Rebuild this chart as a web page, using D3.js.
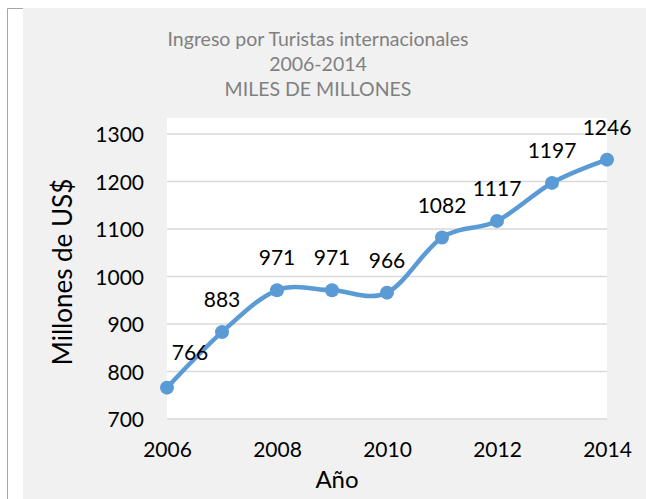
<!DOCTYPE html>
<html>
<head>
<meta charset="utf-8">
<script src="https://cdn.jsdelivr.net/npm/d3@7"></script>
<style>
  body { margin: 0; background: #fff; }
  text { font-family: Lato, "Open Sans", sans-serif; }
</style>
</head>
<body>
<svg id="chart" width="646" height="499"></svg>
<script>
// Values
var years = [2006, 2007, 2008, 2009, 2010, 2011, 2012, 2013, 2014];
var ingresos = [766, 883, 971, 971, 966, 1082, 1117, 1197, 1246];
var xTicks = [2006, 2008, 2010, 2012, 2014];
var yTicks = [700, 800, 900, 1000, 1100, 1200, 1300];
var titleLines = ["Ingreso por Turistas internacionales", "2006-2014", "MILES DE MILLONES"];

var svg = d3.select("#chart");

// outer frame - gray area with a thin border on left / top
svg.append("rect").attr("x", 23).attr("y", 8).attr("width", 623).attr("height", 491)
  .attr("fill", "#f1f1f1");
svg.append("path").attr("d", "M7.5,499 V8.5 H23")
  .attr("fill", "none").attr("stroke", "#a6a6a6").attr("stroke-width", 1);

var x = d3.scaleLinear().domain([2006, 2014]).range([167, 607]);
var y = d3.scaleLinear().domain([700, 1300]).range([419, 134]);

// plot area (white goes a little above the top gridline)
svg.append("rect")
  .attr("x", x(2006)).attr("y", y(1300) - 16)
  .attr("width", x(2014) - x(2006)).attr("height", y(700) - y(1300) + 16)
  .attr("fill", "#fff");

svg.append("g").selectAll("line").data(yTicks).join("line")
  .attr("x1", x(2006)).attr("x2", x(2014))
  .attr("y1", function(d) { return y(d); }).attr("y2", function(d) { return y(d); })
  .attr("stroke", "#d9d9d9").attr("stroke-width", 1.5);

// axis labels, no axis lines (excel style)
var yAxis = d3.axisLeft(y).tickValues(yTicks).tickFormat(d3.format("d")).tickSize(0).tickPadding(0);
var gy = svg.append("g").attr("transform", "translate(144,0)").call(yAxis);
gy.select(".domain").remove();
gy.selectAll("text").attr("font-size", 21).attr("fill", "#000")
  .attr("font-family", "Lato, sans-serif").attr("dy", "0.36em");

var xAxis = d3.axisBottom(x).tickValues(xTicks).tickFormat(d3.format("d")).tickSize(0).tickPadding(0);
var gx = svg.append("g").attr("transform", "translate(0,442)").call(xAxis);
gx.select(".domain").remove();
gx.selectAll("text").attr("font-size", 21).attr("fill", "#000")
  .attr("font-family", "Lato, sans-serif").attr("dy", "0.71em");

// the line
var line = d3.line()
  .x(function(d, i) { return x(years[i]); })
  .y(function(d) { return y(d); })
  .curve(d3.curveCardinal.tension(0));

svg.append("path").datum(ingresos)
  .attr("d", line)
  .attr("fill", "none").attr("stroke", "#5b9bd5").attr("stroke-width", 4.5)
  .attr("stroke-linecap", "round");

svg.append("g").selectAll("circle").data(ingresos).join("circle")
  .attr("cx", function(d, i) { return x(years[i]); })
  .attr("cy", function(d) { return y(d); })
  .attr("r", 7)
  .attr("fill", "#5b9bd5");

// data labels - first one was moved a bit to the right
svg.append("g").selectAll("text").data(ingresos).join("text")
  .attr("x", function(d, i) { return x(years[i]) + (i == 0 ? 23 : 0); })
  .attr("y", function(d, i) { return y(d) - (i == 0 ? 28 : 25); })
  .attr("text-anchor", "middle")
  .attr("font-size", 21).attr("fill", "#000")
  .text(function(d) { return d; });

// title
svg.append("g").selectAll("text").data(titleLines).join("text")
  .attr("x", 318).attr("y", function(d, i) { return 46 + i * 25; })
  .attr("text-anchor", "middle")
  .attr("font-size", 19.5).attr("fill", "#808080")
  .text(function(d) { return d; });

// axis titles
svg.append("text")
  .attr("transform", "translate(72,272) rotate(-90)")
  .attr("text-anchor", "middle")
  .attr("font-size", 26).attr("fill", "#000")
  .text("Millones de US$");

svg.append("text")
  .attr("x", 337).attr("y", 488)
  .attr("text-anchor", "middle")
  .attr("font-size", 24).attr("fill", "#000")
  .text("Año");
</script>
</body>
</html>
